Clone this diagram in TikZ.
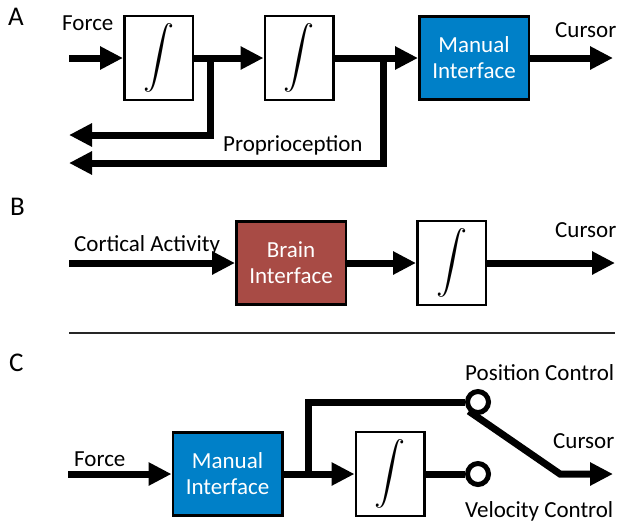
\documentclass[tikz,border=0pt]{standalone}
\usepackage{fontspec}
\setmainfont{Carlito}
\usepackage{graphicx}
\usetikzlibrary{arrows.meta}
\definecolor{manblue}{RGB}{0,128,200}
\definecolor{brainred}{RGB}{168,75,69}
\begin{document}
\begin{tikzpicture}[x=1pt,y=-1pt,
    every node/.style={font=\fontsize{23}{26}\selectfont},
    sig/.style={line width=7pt},
    sigarr/.style={sig,-{Triangle[length=23pt,width=22pt]}},
    intbox/.style={draw,line width=2.5pt,fill=white,minimum width=68.5pt,minimum height=84pt,inner sep=0pt,font=\normalsize},
    ifbox/.style={draw,line width=2.5pt,minimum width=109.5pt,minimum height=83pt,align=center,text=white,inner sep=0pt},
    lbl/.style={anchor=base west,inner sep=0pt},
    panel/.style={anchor=base west,inner sep=0pt,font=\fontsize{27}{30}\selectfont},
    swpt/.style={circle,draw,fill=white,line width=5pt,minimum size=21pt,inner sep=0pt}]
    \useasboundingbox (0,0) rectangle (621,523);
    % A: force input, two integrators, manual interface
    \node[panel] (labA) at (8,25) {A};
    \node[lbl] (forceA) at (62,30) {Force};
    \node[intbox] (intA1) at (158.5,58) {\scalebox{3.1}{$\displaystyle\int$}};
    \node[intbox] (intA2) at (299,58) {\scalebox{3.1}{$\displaystyle\int$}};
    \node[ifbox,fill=manblue] (manA) at (474,58) {Manual\\Interface};
    \node[lbl] (curA) at (555,37) {Cursor};
    \node[lbl] (propA) at (223,151) {Proprioception};
    \coordinate (inA) at (69,58);
    \coordinate (outA) at (613,58);
    \coordinate (brA1) at (210,58);
    \coordinate (brA2) at (383,58);
    \coordinate (fbA1) at (69,135);
    \coordinate (fbA2) at (69,163);
    \draw[sigarr] (inA) -- (intA1.west);
    \draw[sigarr] (intA1.east) -- (intA2.west);
    \draw[sigarr] (intA2.east) -- (manA.west);
    \draw[sigarr] (manA.east) -- (outA);
    \draw[sigarr] (brA1) |- (fbA1);
    \draw[sigarr] (brA2) |- (fbA2);
    % B: brain interface
    \node[panel] (labB) at (10,215) {B};
    \node[lbl] (cortB) at (74,251) {Cortical Activity};
    \node[ifbox,fill=brainred] (brainB) at (291,263) {Brain\\Interface};
    \node[intbox] (intB) at (451.5,263) {\scalebox{3.1}{$\displaystyle\int$}};
    \node[lbl] (curB) at (555,237) {Cursor};
    \coordinate (inB) at (69,263);
    \coordinate (outB) at (615,263);
    \draw[sigarr] (inB) -- (brainB.west);
    \draw[sigarr] (brainB.east) -- (intB.west);
    \draw[sigarr] (intB.east) -- (outB);
    % separator
    \coordinate (sepL) at (69,333);
    \coordinate (sepR) at (615,333);
    \draw[line width=1.3pt,black!85] (sepL) -- (sepR);
    % C: switch between position and velocity control
    \node[panel] (labC) at (9,371) {C};
    \node[lbl] (forceC) at (74,466) {Force};
    \node[ifbox,fill=manblue] (manC) at (227.5,474) {Manual\\Interface};
    \node[intbox] (intC) at (390,474) {\scalebox{3.1}{$\displaystyle\int$}};
    \node[swpt] (posC) at (478,402) {};
    \node[swpt] (velC) at (478,474) {};
    \node[lbl] (posL) at (465,380) {Position Control};
    \node[lbl] (curC) at (553,448) {Cursor};
    \node[lbl] (velL) at (465,517) {Velocity Control};
    \coordinate (inC) at (68,474);
    \coordinate (brC) at (308,474);
    \coordinate (swC) at (560,474);
    \coordinate (outC) at (613,474);
    \draw[sigarr] (inC) -- (manC.west);
    \draw[sigarr] (manC.east) -- (intC.west);
    \draw[sig] (brC) |- (posC.west);
    \draw[sig] (intC.east) -- (velC.west);
    \draw[sigarr] (posC.-135) -- (swC) -- (outC);
\end{tikzpicture}
\end{document}
